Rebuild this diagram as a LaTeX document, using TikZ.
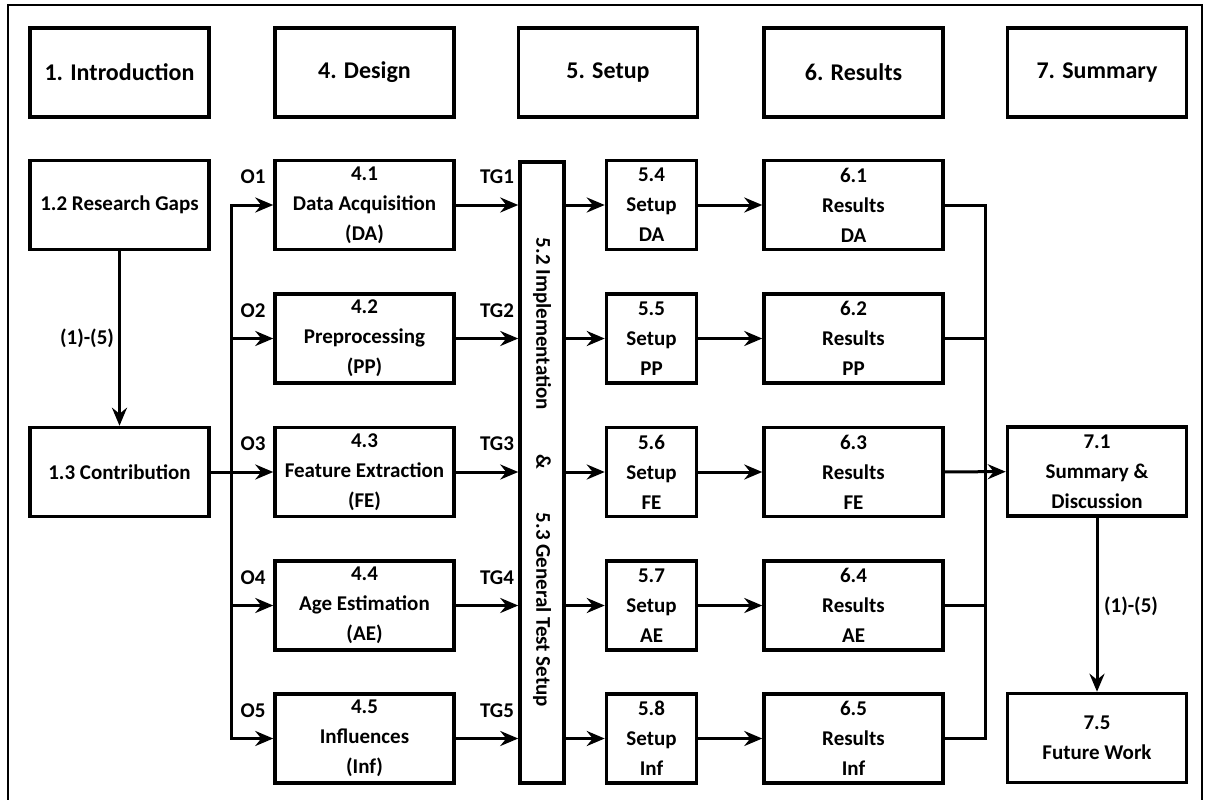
\documentclass[tikz,border=0pt]{standalone}
\usepackage{fontspec}
\setmainfont{Carlito}
\usetikzlibrary{arrows.meta}

\begin{document}
\begin{tikzpicture}[x=1pt,y=-1pt]
% Styles
\tikzstyle{chap} = [
    rectangle,
    draw,
    line width=3.5pt,
    minimum width=179pt,
    minimum height=89pt,
    inner sep=0pt,
    align=center,
    font=\bfseries\fontsize{24}{30}\selectfont
]

\tikzstyle{sect} = [
    rectangle,
    draw,
    line width=3.5pt,
    minimum width=179pt,
    minimum height=89pt,
    inner sep=0pt,
    align=center,
    font=\bfseries\fontsize{21}{30}\selectfont
]

\tikzstyle{setupbox} = [sect, minimum width=90pt]

\tikzstyle{lbl} = [font=\bfseries\fontsize{21}{30}\selectfont]

\tikzstyle{edge} = [line width=3pt, line cap=rect,
    -{Stealth[length=18pt,width=15pt,inset=6pt]}]

\tikzstyle{link} = [line width=3pt, line cap=rect]

\useasboundingbox (0,0) rectangle (1207,800);
\draw[line width=2.5pt] (8,5) rectangle (1202,808);

% Nodes
\node[chap] (intro) at (119.5,72.5) {1. Introduction};
\node[chap] (design) at (364.5,72.5) {4. Design};
\node[chap] (setup) at (608,72.5) {5. Setup};
\node[chap] (results) at (853.5,72.5) {6. Results};
\node[chap] (summary) at (1097,72.5) {7. Summary};

\node[sect] (gaps) at (119.5,205) {1.2 Research Gaps};
\node[sect] (contrib) at (119.5,472) {1.3 Contribution};

\node[sect] (da) at (364.5,205) {4.1\\Data Acquisition\\(DA)};
\node[sect] (pp) at (364.5,338.5) {4.2\\Preprocessing\\(PP)};
\node[sect] (fe) at (364.5,472) {4.3\\Feature Extraction\\(FE)};
\node[sect] (ae) at (364.5,605.5) {4.4\\Age Estimation\\(AE)};
\node[sect] (inf) at (364.5,738.5) {4.5\\Influences\\(Inf)};

\node[draw, line width=3.5pt, minimum width=44pt, minimum height=621pt,
    inner sep=0pt] (bar) at (542,472.5) {};
\node[lbl, rotate=-90] (bartxt) at (bar.center)
{5.2 Implementation\hspace{44pt}\&\hspace{44pt}5.3 General Test Setup};

\node[setupbox] (s54) at (651.5,205) {5.4\\Setup\\DA};
\node[setupbox] (s55) at (651.5,338.5) {5.5\\Setup\\PP};
\node[setupbox] (s56) at (651.5,472) {5.6\\Setup\\FE};
\node[setupbox] (s57) at (651.5,605.5) {5.7\\Setup\\AE};
\node[setupbox] (s58) at (651.5,738.5) {5.8\\Setup\\Inf};

\node[sect] (r61) at (853.5,205) {6.1\\Results\\DA};
\node[sect] (r62) at (853.5,338.5) {6.2\\Results\\PP};
\node[sect] (r63) at (853.5,472) {6.3\\Results\\FE};
\node[sect] (r64) at (853.5,605.5) {6.4\\Results\\AE};
\node[sect] (r65) at (853.5,738.5) {6.5\\Results\\Inf};

\node[sect] (sum71) at (1097,471.5) {7.1\\Summary \&\\Discussion};
\node[sect] (fw75) at (1097,738) {7.5\\Future Work};

% Labels
\node[lbl] (o1) at (253,177) {O1};
\node[lbl] (o2) at (253,310.5) {O2};
\node[lbl] (o3) at (253,444) {O3};
\node[lbl] (o4) at (253,577.5) {O4};
\node[lbl] (o5) at (253,710.5) {O5};

\node[lbl] (tg1) at (497,177) {TG1};
\node[lbl] (tg2) at (497,310.5) {TG2};
\node[lbl] (tg3) at (497,444) {TG3};
\node[lbl] (tg4) at (497,577.5) {TG4};
\node[lbl] (tg5) at (497,710.5) {TG5};

\node[lbl] (rq) at (87,338) {(1)-(5)};
\node[lbl] (fq) at (1131,606) {(1)-(5)};

\coordinate (jl1) at (231,205);
\coordinate (jl5) at (231,738.5);
\coordinate (jr1) at (985,205);
\coordinate (jr5) at (985,738.5);

% Edges
\draw[edge] (gaps) -- (rq -| gaps) -- (contrib);

\draw[link] (jl1) -- (jl5);
\draw[edge] (jl1) -- (da);
\draw[edge] (pp -| jl1) -- (pp);
\draw[edge] (contrib) -- (fe);
\draw[edge] (ae -| jl1) -- (ae);
\draw[edge] (jl5) -- (inf);

\draw[edge] (da) -- (da -| bar.west);
\draw[edge] (pp) -- (pp -| bar.west);
\draw[edge] (fe) -- (fe -| bar.west);
\draw[edge] (ae) -- (ae -| bar.west);
\draw[edge] (inf) -- (inf -| bar.west);

\draw[edge] (s54 -| bar.east) -- (s54);
\draw[edge] (s55 -| bar.east) -- (s55);
\draw[edge] (s56 -| bar.east) -- (s56);
\draw[edge] (s57 -| bar.east) -- (s57);
\draw[edge] (s58 -| bar.east) -- (s58);

\draw[edge] (s54) -- (r61);
\draw[edge] (s55) -- (r62);
\draw[edge] (s56) -- (r63);
\draw[edge] (s57) -- (r64);
\draw[edge] (s58) -- (r65);

\draw[link] (r61) -- (jr1) -- (jr5) -- (r65);
\draw[link] (r62) -- (r62 -| jr1);
\draw[link] (r64) -- (r64 -| jr1);
\draw[edge] (r63) -- (sum71);

\draw[edge] (sum71) -- (fq -| sum71) -- (fw75);

\end{tikzpicture}
\end{document}
